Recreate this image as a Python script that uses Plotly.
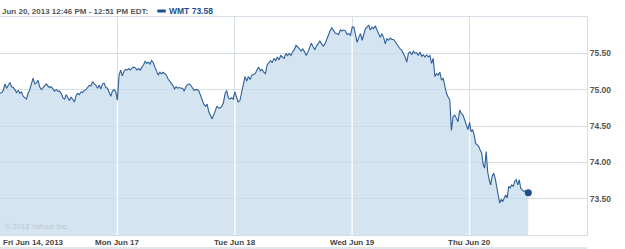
import plotly.graph_objects as go

# ---- data (5-minute closes) ----
day_labels = ["Fri Jun 14, 2013", "Mon Jun 17", "Tue Jun 18", "Wed Jun 19", "Thu Jun 20"]

fri = [74.95, 74.96, 74.99, 75.08, 75.02, 75.06, 75.10, 75.04, 75.03, 75.00,
       74.96, 74.99, 74.95, 74.97, 74.91, 74.89, 74.87, 74.95, 75.00, 75.08,
       75.16, 75.08, 75.09, 75.13, 75.04, 75.00, 75.03, 75.05, 75.08, 75.05,
       75.03, 75.04, 75.01, 74.98, 75.00, 74.98, 74.98, 74.95, 74.89, 74.87,
       74.93, 74.88, 74.85, 74.90, 74.86, 74.83, 74.92, 74.95, 74.93, 74.97,
       74.96, 74.99, 75.00, 75.04, 75.06, 75.05, 75.11, 75.08, 75.06, 75.02,
       75.06, 75.01, 75.08, 75.09, 75.03, 75.02, 74.97, 74.91, 74.98, 75.00,
       74.97]

mon = [74.86, 75.20, 75.27, 75.19, 75.25, 75.28, 75.27, 75.29, 75.27, 75.30,
       75.31, 75.30, 75.27, 75.29, 75.27, 75.31, 75.34, 75.39, 75.36, 75.38,
       75.35, 75.40, 75.37, 75.31, 75.24, 75.20, 75.24, 75.22, 75.24, 75.22,
       75.20, 75.15, 75.12, 75.08, 75.06, 75.01, 75.04, 75.02, 75.03, 75.02,
       75.02, 74.98, 75.04, 75.07, 75.08, 75.06, 75.02, 74.99, 75.00, 75.00,
       74.98, 74.92, 74.88, 74.80, 74.77, 74.80, 74.70, 74.64, 74.60, 74.65,
       74.72, 74.77, 74.75, 74.75, 74.77, 74.82, 74.94, 74.99, 74.89, 74.87,
       74.89, 74.87]

tue = [74.97, 74.89, 74.83, 74.85, 74.97, 75.08, 75.18, 75.12, 75.18, 75.14,
       75.20, 75.21, 75.22, 75.27, 75.31, 75.26, 75.28, 75.24, 75.22, 75.34,
       75.37, 75.40, 75.37, 75.43, 75.40, 75.45, 75.41, 75.47, 75.45, 75.43,
       75.50, 75.47, 75.50, 75.47, 75.52, 75.55, 75.61, 75.59, 75.56, 75.53,
       75.56, 75.52, 75.47, 75.52, 75.59, 75.64, 75.59, 75.55, 75.60, 75.63,
       75.67, 75.63, 75.60, 75.63, 75.70, 75.75, 75.81, 75.85, 75.82, 75.78,
       75.77, 75.76, 75.82, 75.81, 75.82, 75.81, 75.76, 75.77, 75.75]

wed = [75.86, 75.86, 75.77, 75.65, 75.72, 75.77, 75.68, 75.75, 75.84, 75.86,
       75.89, 75.82, 75.86, 75.84, 75.88, 75.82, 75.77, 75.72, 75.77, 75.72,
       75.63, 75.70, 75.68, 75.71, 75.69, 75.69, 75.66, 75.62, 75.59, 75.56,
       75.54, 75.50, 75.45, 75.38, 75.50, 75.52, 75.48, 75.53, 75.50, 75.51,
       75.47, 75.52, 75.46, 75.48, 75.45, 75.48, 75.45, 75.47, 75.36, 75.43,
       75.18, 75.22, 75.20, 75.24, 75.13, 75.16, 75.04, 74.95, 74.90, 74.86,
       74.44, 74.63, 74.65, 74.61, 74.56, 74.72, 74.67, 74.65, 74.58, 74.51,
       74.45]

thu = [74.55, 74.42, 74.45, 74.38, 74.26, 74.24, 74.22, 74.17, 74.13, 73.97,
       73.92, 74.15, 73.87, 73.76, 73.69, 73.81, 73.85, 73.78, 73.65, 73.55,
       73.44, 73.49, 73.46, 73.51, 73.55, 73.51, 73.67, 73.65, 73.69, 73.67,
       73.74, 73.76, 73.69, 73.76, 73.64, 73.62, 73.60, 73.61, 73.59, 73.58]

days = [fri, mon, tue, wed, thu]
y_ticks = [73.5, 74.0, 74.5, 75.0, 75.5]
symbol = "WMT"
title_text = "Jun 20, 2013 12:46 PM - 12:51 PM EDT:"
copyright_text = "\u00a9 2013 Yahoo! Inc."
bars_per_session = 78

# ---- build x positions in "trading-day" units ----
xs, ys = [], []
for d, prices in enumerate(days):
    complete = d < len(days) - 1
    step = 1.0 / len(prices) if complete else 1.0 / bars_per_session
    for i, p in enumerate(prices):
        xs.append(d + i * step)
        ys.append(p)

LINE = "#2f5f98"
DARK = "#1f4e8c"
GRID = "#d5dde6"
FONT = "Liberation Sans"

fig = go.Figure()
fig.add_trace(go.Scatter(
    x=xs, y=ys, mode="lines",
    line=dict(color=LINE, width=1.1),
    fill="tozeroy", fillcolor="rgba(196,219,235,0.72)",
    hoverinfo="skip", showlegend=False))
fig.add_trace(go.Scatter(
    x=[xs[-1]], y=[ys[-1]], mode="markers",
    marker=dict(color=DARK, size=7), showlegend=False, hoverinfo="skip"))

y_lo, y_hi = 73.0, 76.0
n_days = len(days)

shapes = []
# white separators inside the filled area at day boundaries
for d in range(1, n_days):
    top = min(days[d - 1][-1], days[d][0]) - 0.02
    shapes.append(dict(type="line", xref="x", yref="y", x0=d, x1=d, y0=y_lo, y1=top,
                       line=dict(color="rgba(255,255,255,0.9)", width=1.5), layer="above"))
# bottom rule under the date labels
shapes.append(dict(type="line", xref="paper", yref="paper", x0=0, x1=1, y0=-0.06, y1=-0.06,
                   line=dict(color="#d9dde2", width=1.5)))
# legend swatch
shapes.append(dict(type="line", xref="paper", yref="paper", x0=0.268, x1=0.2825,
                   y0=1.0275, y1=1.0275, line=dict(color=DARK, width=3)))

annotations = []
for d, lab in enumerate(day_labels):
    annotations.append(dict(
        x=d, y=0, xref="x", yref="paper", text=lab, showarrow=False,
        xanchor="left" if d == 0 else "center", yanchor="top", yshift=-1,
        xshift=1 if d == 0 else 0,
        font=dict(family=FONT, size=8, color="#444", weight="bold")))
annotations.append(dict(
    x=0, y=1, xref="paper", yref="paper", text=title_text, showarrow=False,
    xanchor="left", yanchor="middle", xshift=0, yshift=6,
    font=dict(family=FONT, size=8, color="#555", weight="bold")))
annotations.append(dict(
    x=0.2895, y=1, xref="paper", yref="paper", text=f"{symbol} {ys[-1]:.2f}", showarrow=False,
    xanchor="left", yanchor="middle", xshift=-3, yshift=6,
    font=dict(family=FONT, size=8.5, color=DARK, weight="bold")))
annotations.append(dict(
    x=0, y=0, xref="paper", yref="paper", text=copyright_text, showarrow=False,
    xanchor="left", yanchor="bottom", xshift=3, yshift=2,
    font=dict(family=FONT, size=7.5, color="#b7c6d3")))

fig.update_layout(
    width=625, height=249,
    margin=dict(l=0, r=38, t=17, b=14, pad=0),
    paper_bgcolor="white", plot_bgcolor="white",
    xaxis=dict(range=[0, n_days], tickvals=list(range(1, n_days)), showticklabels=False,
               showgrid=True, gridcolor=GRID, gridwidth=1, zeroline=False,
               showline=True, linecolor=GRID, linewidth=1, mirror=True, ticks=""),
    yaxis=dict(range=[y_lo, y_hi], side="right", tickvals=y_ticks,
               ticktext=[f"{v:.2f}" for v in y_ticks],
               showgrid=True, gridcolor=GRID, gridwidth=1, zeroline=False,
               showline=True, linecolor=GRID, linewidth=1, mirror=True, ticks="",
               tickfont=dict(family=FONT, size=8.5, color="#555", weight="bold")),
    shapes=shapes, annotations=annotations,
    showlegend=False,
)

fig.write_html("out.html")
